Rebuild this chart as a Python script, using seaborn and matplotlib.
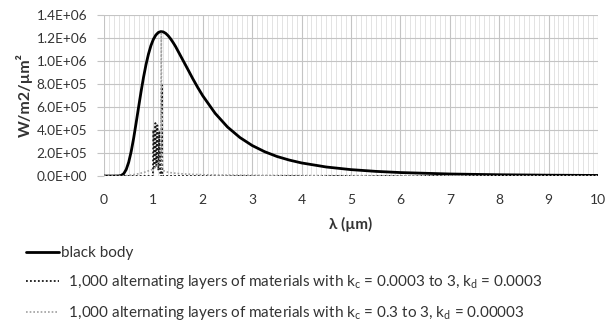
import matplotlib
matplotlib.use("Agg")
import matplotlib.pyplot as plt
import seaborn as sns
import numpy as np
import pandas as pd
from matplotlib.ticker import MultipleLocator, FuncFormatter

# ---- data ----
lam_bb = [0, 0.2, 0.3, 0.35, 0.4, 0.45, 0.5, 0.55, 0.6, 0.65, 0.7, 0.75, 0.8, 0.85, 0.9,
          0.95, 1.0, 1.05, 1.1, 1.15, 1.2, 1.25, 1.3, 1.35, 1.4, 1.45, 1.5, 1.6, 1.7, 1.8,
          1.9, 2.0, 2.25, 2.5, 2.75, 3.0, 3.25, 3.5, 3.75, 4.0, 4.5, 5.0, 5.5, 6.0, 7.0,
          8.0, 9.0, 10.0]
black_body = [0, 0, 720, 5140, 20600, 56600, 120000, 212000, 328000, 461000, 598000,
              733000, 858000, 968000, 1060000, 1134000, 1189000, 1226000, 1248000,
              1256000, 1253000, 1240000, 1219000, 1192000, 1160000, 1125000, 1085000,
              1005000, 925000, 844000, 768000, 697000, 545000, 426000, 335000, 265000,
              211700, 170000, 138600, 113500, 78200, 55400, 40300, 29900, 17460, 10850,
              7070, 4810]

lam_a = [0, 0.5, 0.95, 0.99, 1.0, 1.02, 1.04, 1.06, 1.08, 1.10, 1.12, 1.14, 1.16,
         1.17, 1.18, 1.2, 1.5, 2.0, 10.0]
layers_a = [0, 0, 0, 0, 400000, 60000, 460000, 90000, 440000, 50000, 380000, 0, 0,
            790000, 0, 0, 0, 0, 0]

lam_b = [0, 0.4, 0.5, 0.6, 0.7, 0.8, 0.9, 1.0, 1.05, 1.1, 1.13, 1.15, 1.16, 1.17, 1.19,
         1.21, 1.25, 1.3, 1.4, 1.6, 1.8, 2.0, 2.5, 3.0, 4.0, 5.0, 6.0, 7.0, 8.0, 9.0, 10.0]
layers_b = [0, 0, 5000, 12000, 20000, 30000, 45000, 60000, 80000, 100000, 150000, 170000,
            1240000, 60000, 55000, 45000, 38000, 32000, 26000, 18000, 14000, 11000, 8000,
            6000, 4000, 3000, 2000, 1500, 1000, 1000, 1000]

labels = ["black body",
          "  1,000 alternating layers of materials with k$_\\mathrm{c}$ = 0.0003 to 3, k$_\\mathrm{d}$ = 0.0003",
          "  1,000 alternating layers of materials with k$_\\mathrm{c}$ = 0.3 to 3, k$_\\mathrm{d}$ = 0.00003"]

x_ticks = list(range(0, 11))
y_ticks = [0, 200000, 400000, 600000, 800000, 1000000, 1200000, 1400000]

# ---- style ----
sns.set_theme(style="white")
plt.rcParams['font.family'] = ['Lato', 'DejaVu Sans']
plt.rcParams['mathtext.fontset'] = 'custom'
plt.rcParams['mathtext.rm'] = 'Lato'
plt.rcParams['mathtext.it'] = 'Lato:italic'
plt.rcParams['mathtext.bf'] = 'Lato:bold'

TXT = '#333333'
fig = plt.figure(figsize=(6.11, 3.27), dpi=100)
ax = fig.add_axes([104/611, 1-176/327, (598-104)/611, (176-15)/327])

sns.lineplot(x=lam_bb, y=black_body, ax=ax, color="black", lw=2.0, label=labels[0],
             estimator=None, sort=False)
sns.lineplot(x=lam_a, y=layers_a, ax=ax, color="#1a1a1a", lw=1.3, label=labels[1],
             estimator=None, sort=False, linestyle=(0, (1, 1.2)))
sns.lineplot(x=lam_b, y=layers_b, ax=ax, color="#a0a0a0", lw=1.2, label=labels[2],
             estimator=None, sort=False, linestyle=(0, (1, 1.2)))

ax.set_xlim(0, 10)
ax.set_ylim(0, 1400000)
ax.set_xticks(x_ticks)
ax.set_yticks(y_ticks)
ax.xaxis.set_minor_locator(MultipleLocator(0.1))
ax.yaxis.set_major_formatter(FuncFormatter(lambda v, p: f"{v:.1E}"))
ax.grid(which='major', color='#c4c4c4', lw=0.8)
ax.grid(which='minor', axis='x', color='#dedede', lw=0.6)
ax.set_axisbelow(True)
for s in ax.spines.values():
    s.set_visible(False)
ax.tick_params(axis='x', which='both', length=0, pad=13, labelsize=10, colors=TXT)
ax.tick_params(axis='y', which='major', length=5, width=0.8, color='#c4c4c4', pad=7,
               labelsize=9.8, labelcolor=TXT, left=True)
ax.tick_params(axis='y', which='minor', length=0)

ax.set_xlabel("λ (µm)", fontsize=11, fontweight='bold', color=TXT)
ax.set_ylabel("W/m2/µm²", fontsize=11.5, fontweight='bold', color=TXT)
ax.yaxis.set_label_coords(-0.145, 0.5)
ax.xaxis.set_label_coords(0.5, -0.255)

ax.legend(loc='upper left', bbox_to_anchor=(26/611, 1-246/327),
          bbox_transform=fig.transFigure, frameon=False, borderpad=0, borderaxespad=0,
          handlelength=2.15, handletextpad=0.15, labelspacing=0.85, fontsize=11,
          labelcolor=TXT)

fig.savefig("out.png", dpi=100)
